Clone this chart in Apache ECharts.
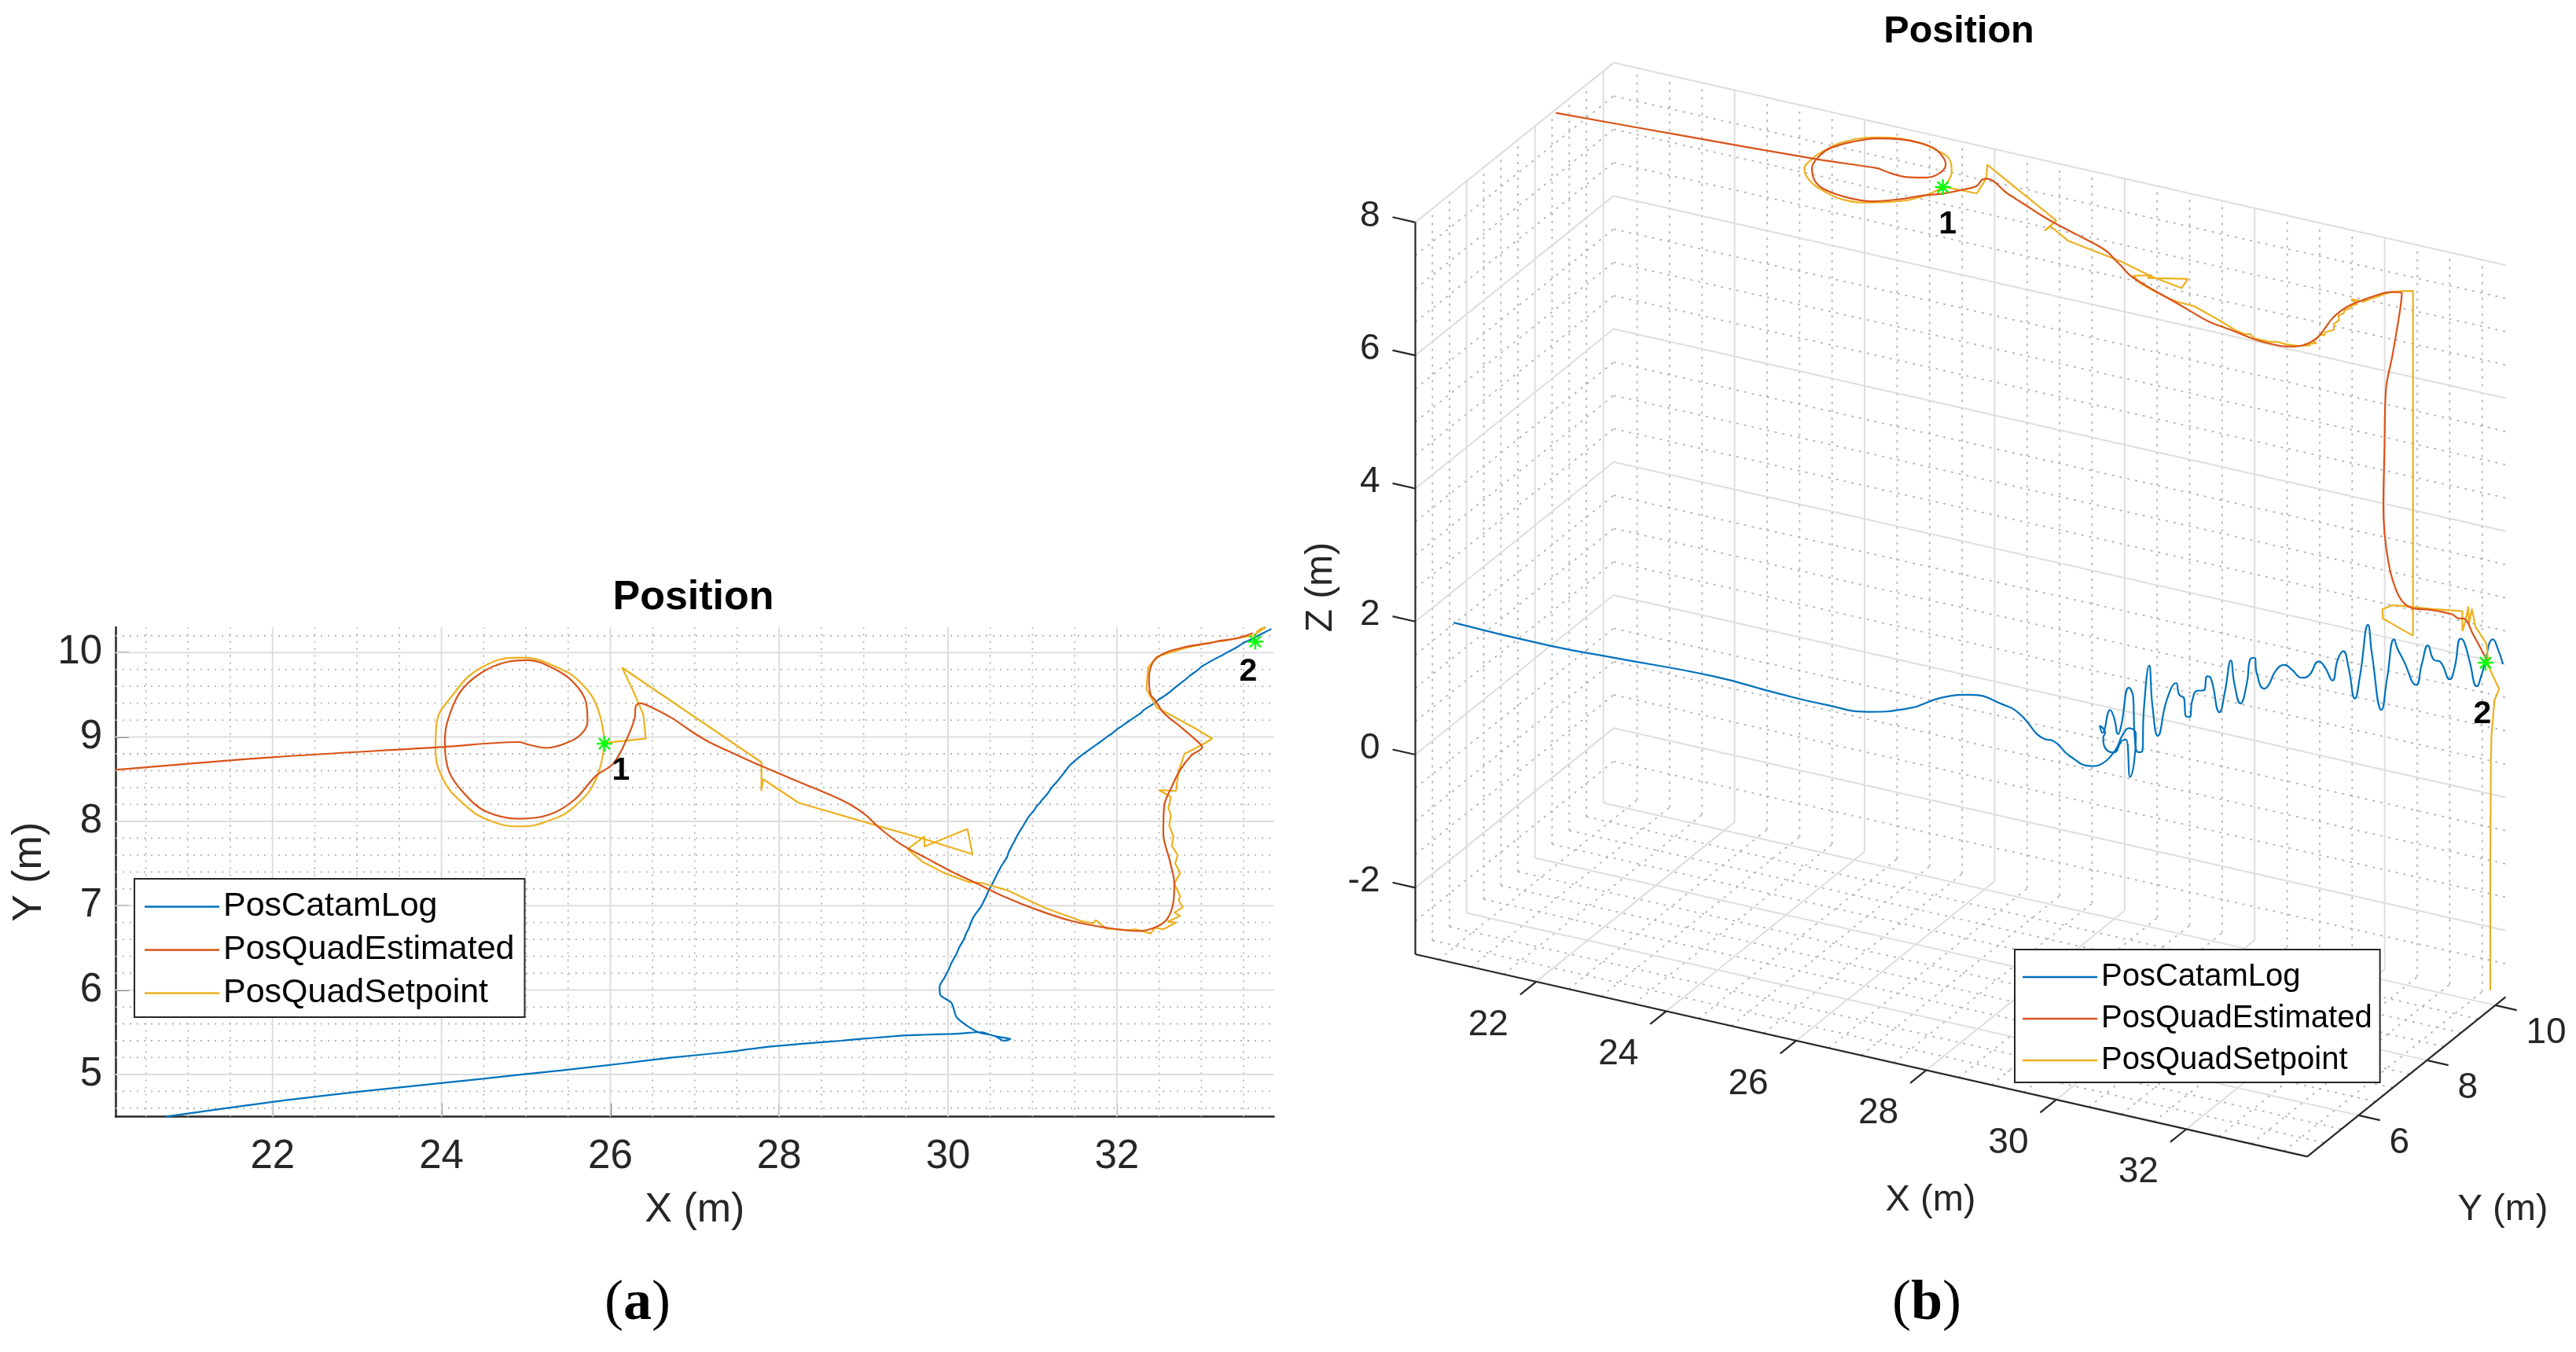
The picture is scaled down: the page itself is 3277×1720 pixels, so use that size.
<!DOCTYPE html>
<html><head><meta charset="utf-8">
<style>html,body{margin:0;padding:0;background:#fff}#c{width:3277px;height:1720px}</style>
<script src="https://cdn.jsdelivr.net/npm/echarts@6/dist/echarts.min.js"></script>
</head><body><div id="c"></div>
<script>
// ---------- data: metres, [X, Y, Z] ----------
const seriesNames = ['PosCatamLog', 'PosQuadEstimated', 'PosQuadSetpoint'];
const xLimits = [20.14, 33.86];
const yLimits = [4.5, 10.3];
const zLimits = [-3, 8];
const xTicks = [22, 24, 26, 28, 30, 32];
const yTicksPlan = [5, 6, 7, 8, 9, 10];
const yTicks3D = [6, 8, 10];
const zTicks = [-2, 0, 2, 4, 6, 8];
const waypoint1 = [25.93, 8.92, 7.95];
const waypoint2 = [33.64, 10.13, 2.01];

const catamLog = [
[20.73,4.5,2.08],[22.12,4.69,1.96],[23.06,4.80,1.94],[24.49,4.95,1.92],[25.43,5.05,1.83],[26.14,5.13,1.78],[26.73,5.20,1.78],[27.33,5.26,1.94],[27.80,5.32,2.18],[28.22,5.36,2.30],[28.73,5.40,2.24],[28.95,5.42,2.15],[29.32,5.45,1.84],[29.43,5.46,1.84],[29.70,5.47,1.66],[30.03,5.48,1.58],[30.20,5.49,1.66],[30.33,5.50,1.81],[30.41,5.50,1.94],[30.50,5.47,2.14],[30.63,5.44,2.30],[30.74,5.42,2.23],[30.66,5.40,1.59],[30.57,5.45,2.11],[30.50,5.47,2.07],[30.36,5.50,1.85],[30.22,5.58,1.81],[30.10,5.68,1.94],[30.04,5.85,1.93],[29.91,5.94,1.97],[29.90,6.04,1.82],
[29.96,6.15,2.13],[29.99,6.21,1.99],[30.02,6.27,1.73],[30.04,6.32,1.84],[30.10,6.43,2.38],[30.13,6.50,2.22],[30.14,6.52,1.66],[30.17,6.57,1.37],[30.20,6.63,1.36],[30.21,6.66,1.98],[30.25,6.74,2.62],[30.27,6.80,1.98],[30.31,6.88,1.52],[30.39,6.99,2.03],[30.46,7.13,2.24],[30.48,7.18,2.05],[30.52,7.25,1.97],[30.53,7.27,1.71],[30.56,7.33,1.67],[30.58,7.37,1.90],[30.62,7.45,2.03],[30.67,7.53,2.01],[30.70,7.58,2.21],[30.72,7.64,2.17],[30.79,7.77,1.61],[30.83,7.85,1.89],[30.88,7.93,2.34],[30.91,7.98,1.97],[30.96,8.06,1.66],[31.02,8.13,1.94],[31.05,8.18,2.30],[31.09,8.22,2.31],[31.11,8.25,2.07],[31.18,8.33,1.82],[31.22,8.39,1.86],[31.29,8.47,2.06],[31.37,8.57,2.12],[31.44,8.66,2.02],[31.54,8.75,1.89],[31.62,8.81,1.92],[31.73,8.89,2.12],[31.80,8.94,2.02],[31.88,9.00,1.82],[31.94,9.04,2.13],[32.00,9.09,2.25],[32.06,9.13,2.00],[32.13,9.18,1.53],[32.19,9.22,1.88],[32.28,9.28,2.63],[32.32,9.32,2.18],[32.43,9.39,1.34],[32.49,9.44,1.81],[32.57,9.49,2.39],[32.61,9.52,2.24],[32.67,9.57,2.07],[32.81,9.68,1.68],[32.87,9.73,1.98],[32.94,9.78,2.26],[33.00,9.83,2.04],[33.08,9.88,2.00],[33.19,9.94,1.74],[33.25,9.97,1.92],[33.32,10.01,2.35],[33.36,10.03,2.31],[33.43,10.07,2.00],[33.51,10.12,1.63],[33.58,10.15,1.84],[33.71,10.22,2.34],[33.77,10.25,2.19],[33.83,10.28,1.97]
];

const quadEstimated = [
[20.14,8.61,7.91],[22,8.76,7.92],[24,8.88,7.96],[24.92,8.94,8.0],[25.03,8.91,8.0],[25.24,8.87,8.0],[25.43,8.91,7.99],[25.63,9.01,7.99],[25.73,9.18,8.0],[25.71,9.42,8.03],[25.56,9.65,8.0],[25.33,9.81,8.03],[25.03,9.91,8.01],[24.78,9.89,8.01],[24.47,9.76,8.01],[24.22,9.53,8.0],[24.07,9.18,8.02],[24.04,8.93,8.01],[24.09,8.59,7.97],[24.27,8.33,7.92],[24.52,8.12,7.94],[24.92,8.03,7.94],[25.28,8.08,7.94],[25.58,8.26,7.96],[25.83,8.54,7.96],[26.04,8.69,7.97],[26.21,9.01,7.94],[26.29,9.23,7.92],[26.30,9.36,7.96],[26.35,9.40,7.97],[26.49,9.35,7.98],[26.72,9.23,7.93],[26.97,9.06,7.95],[27.17,8.94,7.96],[27.47,8.80,7.94],[27.78,8.66,7.93],[28.23,8.47,7.93],[28.59,8.32,7.93],[28.84,8.20,7.92],[29.02,8.08,7.89],[29.19,7.92,7.91],[29.44,7.73,7.89],[29.75,7.56,7.89],[30.05,7.40,7.9],[30.35,7.26,7.9],[30.66,7.11,7.9],[31.06,6.95,7.88],[31.46,6.82,7.9],[31.87,6.74,7.88],[32.27,6.70,7.89],[32.47,6.75,7.9],[32.60,6.85,7.92],[32.67,7.05,7.95],[32.68,7.26,8.01],[32.63,7.52,8.01],[32.55,7.86,7.95],[32.56,8.18,7.94],[32.65,8.41,7.95],[32.75,8.61,7.96],[32.88,8.78,7.97],[33.01,8.88,7.95],[32.95,8.95,7.67],[32.73,9.14,6.84],[32.55,9.29,6.22],[32.45,9.44,5.28],[32.40,9.50,4.34],[32.38,9.68,3.45],[32.43,9.89,2.85],[32.58,10.0,2.65],[32.83,10.07,2.65],[33.13,10.12,2.63],[33.22,10.14,2.58],[33.30,10.15,2.59],[33.43,10.17,2.37],[33.61,10.23,2.0]
];

const setpointLoop = [
[25.93,8.93,7.95],[25.86,9.31,8.0],[25.68,9.61,8.0],[25.38,9.82,8.0],[24.93,9.94,8.0],[24.47,9.82,8.0],[24.12,9.48,8.0],[23.94,9.14,7.94],[23.93,8.88,7.94],[24.02,8.50,7.97],[24.27,8.20,7.97],[24.57,8.01,7.97],[24.93,7.94,7.94],[25.28,8.01,7.95],[25.58,8.18,7.96],[25.83,8.50,7.96],[25.93,8.93,7.95]
];
const setpointPath = [
[25.93,8.93,7.95],[26.42,8.98,7.94],[26.39,9.27,8.0],[26.26,9.57,7.93],[26.14,9.82,7.96],[27.79,8.70,7.95],[27.79,8.36,7.94],[27.81,8.50,7.95],[28.23,8.22,7.94],[29.19,7.94,7.96],[29.72,7.79,7.92],[30.29,7.61,7.94],[30.23,7.91,7.94],[29.72,7.70,7.93],[29.72,7.82,7.92],[29.52,7.67,7.93],[29.70,7.52,7.92],[29.95,7.39,7.93],[30.25,7.28,7.92],[30.40,7.27,7.9],[30.71,7.18,7.94],[31.16,6.97,7.94],[31.57,6.82,7.9],[31.72,6.79,7.9],[31.75,6.83,7.9],[31.87,6.73,7.9],[32.12,6.71,7.91],[32.22,6.72,7.93],[32.40,6.67,7.95],[32.45,6.74,7.92],[32.55,6.72,7.94],[32.70,6.80,7.95],[32.60,6.81,7.94],[32.75,6.88,7.96],[32.68,6.92,7.95],[32.78,6.98,8.08],[32.73,7.07,8.0],[32.75,7.11,7.98],[32.68,7.26,7.95],[32.75,7.39,7.95],[32.69,7.50,7.98],[32.72,7.60,8.0],[32.65,7.71,8.01],[32.67,7.82,8.0],[32.62,7.95,7.98],[32.64,8.07,7.97],[32.61,8.16,7.96],[32.64,8.29,7.94],[32.50,8.37,7.95],[32.70,8.36,7.96],[32.73,8.59,7.93],[32.80,8.80,7.92],[32.88,8.84,7.95],[33.01,8.91,7.96],[33.13,8.98,7.96],[33.13,8.98,2.78],[32.93,9.10,2.76],[32.73,9.21,2.75],[32.47,9.35,2.74],[32.35,9.57,2.76],[32.37,9.82,2.72],[32.47,9.95,2.68],[32.83,10.06,2.67],[33.18,10.13,2.69],[33.28,10.14,2.70],[33.28,10.14,2.40],[33.32,10.15,2.55],[33.36,10.16,2.78],[33.37,10.16,2.52],[33.41,10.17,2.75],[33.46,10.18,2.49],[33.62,10.20,2.26],[33.64,10.22,1.92],[33.76,10.30,1.57],[33.70,10.28,1.40],[33.67,10.25,0.90],[33.66,10.25,0.46],[33.65,10.25,-1.07],[33.65,10.25,-2.96]
];

// ---------- styling & helpers ----------
const FONT = '"Liberation Sans", Arial, sans-serif';
const INK = '#262626';
const COLORS = ['#0072BD', '#D95319', '#EDB120'];
const MAJOR = '#dedede', MINOR = '#b4b4b4';
const GAP = ['-', '-'];
const [xMin, xMax] = xLimits, [yMin, yMax] = yLimits, [zMin, zMax] = zLimits;
const TRACK_LIFT = 0.035; // flown tracks sit this far above the box datum in the view

// orthographic view of the 3-D box on the right-hand plane
function project(X, Y, Z) {
  return [1800.5 + 82.7 * (X - xMin) + 43.5 * (Y - yMin),
          1214 + 18.76 * (X - xMin) - 35 * (Y - yMin) - 84.65 * (Z - zMin)];
}
const projectTrack = p => project(p[0], p[1], p[2] + TRACK_LIFT);
function steps(lo, hi, step) {
  const out = [];
  for (let k = Math.ceil(lo / step - 1e-9); k * step <= hi + 1e-9; k++) out.push(+(k * step).toFixed(4));
  return out;
}
const isEven = v => Math.abs(v / 2 - Math.round(v / 2)) < 1e-6;
const isInt = v => Math.abs(v - Math.round(v)) < 1e-6;
function flat(segments) {
  const out = [];
  segments.forEach(s => { s.forEach(p => out.push(p)); out.push(GAP); });
  return out;
}
function gridSeries(segments, color, dash, xi, yi, width) {
  return { type: 'line', xAxisIndex: xi, yAxisIndex: yi, data: flat(segments), symbol: 'none', silent: true,
    connectNulls: false, z: 1, animation: false,
    lineStyle: { color, width: width || (dash ? 1.8 : 2), type: dash || 'solid' } };
}
const STAR = 'path://M10 0L10 20M0 10L20 10M3 3L17 17M17 3L3 17';
function starSeries(xi, yi, p, text, off) {
  return { type: 'scatter', xAxisIndex: xi, yAxisIndex: yi, data: [p], symbol: STAR, symbolSize: 20, silent: true, z: 6,
    itemStyle: { color: 'rgba(0,0,0,0)', borderColor: '#00ff00', borderWidth: 2.4, opacity: 1 },
    label: { show: true, formatter: text, position: 'inside', offset: off, color: '#000', opacity: 1,
      fontFamily: FONT, fontWeight: 'bold', fontSize: 41 } };
}
function tickLabels(points, align, size) {
  return { type: 'scatter', xAxisIndex: 1, yAxisIndex: 1, symbol: 'circle', symbolSize: 1, silent: true, z: 2,
    itemStyle: { color: 'rgba(0,0,0,0)', opacity: 1 },
    data: points.map(p => ({ value: p.pos, label: { show: true, formatter: p.text, position: 'inside',
      align, verticalAlign: 'middle', color: INK, opacity: 1, fontFamily: FONT, fontSize: size } })) };
}
function track(i, data, xi, smooth, z) {
  return { name: seriesNames[i], type: 'line', xAxisIndex: xi, yAxisIndex: xi, symbol: 'none', silent: true, animation: false,
    data, smooth, z, lineStyle: { color: COLORS[i], width: 2.2 }, itemStyle: { color: COLORS[i] } };
}

const series = [];

// ---------- panel (a): plan view ----------
const plan = d => d.map(p => [p[0], p[1]]);
const xMinorA = steps(xMin, xMax, 0.5).filter(v => !isEven(v));
const yMinorA = steps(yMin, yMax, 0.2).filter(v => !isInt(v));
const vert = v => [[v, yMin], [v, yMax]], horiz = v => [[xMin, v], [xMax, v]];
series.push(gridSeries([...xMinorA.map(vert), ...yMinorA.map(horiz)], MINOR, [2, 7], 0, 0));
series.push(gridSeries([...xTicks.map(vert), ...yTicksPlan.map(horiz)], MAJOR, null, 0, 0));
series.push(track(0, plan(catamLog), 0, 0.25, 3));
series.push(track(1, plan(quadEstimated), 0, 0.35, 5));
series.push(track(2, plan(setpointLoop), 0, 0.45, 4));
series.push(track(2, plan(setpointPath), 0, false, 4));
series.push(starSeries(0, 0, waypoint1.slice(0, 2), '1', [21, 35]));
series.push(starSeries(0, 0, waypoint2.slice(0, 2), '2', [-9, 38]));

// ---------- panel (b): 3-D view ----------
const seg3 = (a, b) => [project(...a), project(...b)];
const xAll = steps(xMin, xMax, 0.5), yAll = steps(yMin + 0.01, yMax, 0.5), zAll = steps(zMin + 0.01, zMax, 0.5);
const boxLines = (xs, ys, zs) => [
  ...xs.map(x => seg3([x, yMax, zMin], [x, yMax, zMax])),   // back wall verticals
  ...xs.map(x => seg3([x, yMin, zMin], [x, yMax, zMin])),   // floor
  ...ys.map(y => seg3([xMin, y, zMin], [xMin, y, zMax])),   // side wall verticals
  ...ys.map(y => seg3([xMin, y, zMin], [xMax, y, zMin])),   // floor
  ...zs.map(z => seg3([xMin, yMin, z], [xMin, yMax, z])),   // side wall
  ...zs.map(z => seg3([xMin, yMax, z], [xMax, yMax, z]))];  // back wall
series.push(gridSeries(boxLines(xAll.filter(v => !isEven(v)), yAll.filter(v => !isEven(v)), zAll.filter(v => !isEven(v))), MINOR, [3, 7], 1, 1));
series.push(gridSeries(boxLines(xTicks, yTicks3D, zTicks), MAJOR, null, 1, 1));
const axisSegs = [
  seg3([xMin, yMin, zMin], [xMin, yMin, zMax]),
  seg3([xMin, yMin, zMin], [xMax, yMin, zMin]),
  seg3([xMax, yMin, zMin], [xMax, yMax, zMin]),
  ...xTicks.map(x => seg3([x, yMin, zMin], [x, yMin - 0.47, zMin])),
  ...yTicks3D.map(y => seg3([xMax, y, zMin], [xMax + 0.33, y, zMin])),
  ...zTicks.map(z => seg3([xMin, yMin, z], [xMin - 0.35, yMin, z]))];
series.push(Object.assign(gridSeries(axisSegs, INK, null, 1, 1, 2.2), { z: 2 }));
series.push(track(0, catamLog.map(projectTrack), 1, 0.5, 3));
series.push(track(1, quadEstimated.map(projectTrack), 1, 0.35, 5));
series.push(track(2, setpointLoop.map(projectTrack), 1, 0.45, 4));
series.push(track(2, setpointPath.map(projectTrack), 1, false, 4));
series.push(starSeries(1, 1, projectTrack(waypoint1), '1', [6, 48]));
series.push(starSeries(1, 1, projectTrack(waypoint2), '2', [-4, 66]));

const shift = (p, dx, dy) => [p[0] + dx, p[1] + dy];
series.push(tickLabels(xTicks.map(x => ({ text: String(x), pos: shift(project(x, yMin, zMin), -61, 55) })), 'center', 46));
series.push(tickLabels(yTicks3D.map(y => ({ text: String(y), pos: shift(project(xMax, y, zMin), 39, 35) })), 'left', 46));
series.push(tickLabels(zTicks.map(z => ({ text: String(z), pos: shift(project(xMin, yMin, z), -45, -8) })), 'right', 46));

// ---------- free text ----------
const text = (x, y, t, size, opts) => ({ type: 'text', x, y, silent: true, z: 20, rotation: (opts && opts.rot) || 0,
  style: { text: t, fontFamily: FONT, fontSize: size, fontWeight: (opts && opts.bold) ? 'bold' : 'normal',
    fill: (opts && opts.fill) || INK, align: 'center', verticalAlign: 'middle' } });
const panelTag = (x, y, letter) => ({ type: 'text', x, y, silent: true, z: 20,
  style: { text: '{p|(}{b|' + letter + '}{p|)}', align: 'center', verticalAlign: 'middle',
    rich: { p: { fontFamily: '"Liberation Serif", serif', fontSize: 72, fill: '#000' },
            b: { fontFamily: '"Liberation Serif", serif', fontSize: 72, fontWeight: 'bold', fill: '#000' } } } });

const graphic = [
  text(882, 761, 'Position', 52, { bold: true, fill: '#000' }),
  text(2492, 41, 'Position', 48.5, { bold: true, fill: '#000' }),
  text(2456, 1527, 'X (m)', 47),
  text(3184, 1539, 'Y (m)', 47),
  text(1681, 747, 'Z (m)', 48, { rot: Math.PI / 2 }),
  panelTag(811, 1659, 'a'),
  panelTag(2451, 1659, 'b')
];

const legendBase = { orient: 'vertical', data: seriesNames, selectedMode: false, backgroundColor: '#fff',
  borderColor: INK, borderWidth: 2, itemWidth: 95, itemHeight: 2.5, icon: 'rect', z: 10, align: 'left' };

const option = {
  animation: false, backgroundColor: '#fff',
  grid: [
    { left: 147, top: 798, width: 1473.6, height: 622.6 },
    { left: 1650, top: 0, width: 1627, height: 1720 }
  ],
  xAxis: [
    { type: 'value', gridIndex: 0, min: xMin, max: xMax, name: 'X (m)', nameLocation: 'middle', nameGap: 93,
      nameTextStyle: { fontFamily: FONT, fontSize: 52, color: INK },
      axisLine: { show: true, onZero: false, lineStyle: { color: INK, width: 2.5 } },
      axisTick: { show: true, inside: true, length: 17, customValues: xTicks, lineStyle: { color: INK, width: 2 } },
      axisLabel: { show: true, customValues: xTicks, margin: 26, fontFamily: FONT, fontSize: 51, color: INK, showMinLabel: true, showMaxLabel: true },
      splitLine: { show: false } },
    { type: 'value', gridIndex: 1, min: 1650, max: 3277, show: false, splitLine: { show: false } }
  ],
  yAxis: [
    { type: 'value', gridIndex: 0, min: yMin, max: yMax, name: 'Y (m)', nameLocation: 'middle', nameGap: 83,
      nameTextStyle: { fontFamily: FONT, fontSize: 52, color: INK },
      axisLine: { show: true, onZero: false, lineStyle: { color: INK, width: 2.5 } },
      axisTick: { show: true, inside: true, length: 17, customValues: yTicksPlan, lineStyle: { color: INK, width: 2 } },
      axisLabel: { show: true, customValues: yTicksPlan, margin: 17, fontFamily: FONT, fontSize: 51, color: INK, padding: [16, 0, 0, 0] },
      splitLine: { show: false } },
    { type: 'value', gridIndex: 1, min: 0, max: 1720, inverse: true, show: false, splitLine: { show: false } }
  ],
  legend: [
    Object.assign({}, legendBase, { left: 171, top: 1118, itemGap: 12, padding: [14, 13, 9, 13],
      textStyle: { fontFamily: FONT, fontSize: 43, color: '#000' } }),
    Object.assign({}, legendBase, { left: 2563, top: 1208, itemGap: 13, padding: [15, 10, 8, 10],
      textStyle: { fontFamily: FONT, fontSize: 40, color: '#000' } })
  ],
  graphic,
  series
};
const chart = echarts.init(document.getElementById('c'), null, { renderer: 'canvas' });
chart.setOption(option);
</script></body></html>
